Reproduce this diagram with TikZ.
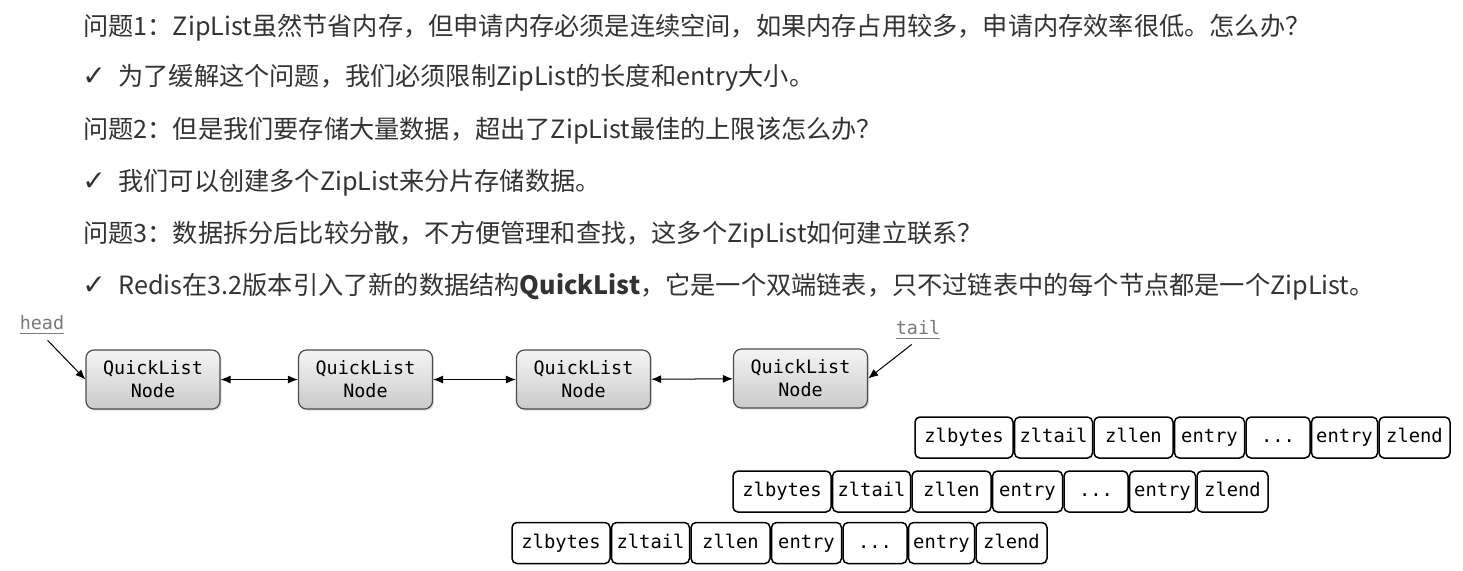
\documentclass[tikz,border=0pt]{standalone}
\usepackage{fontspec}
\setmainfont{Noto Sans CJK SC}
\newfontfamily\dejavu{DejaVu Sans}
\setmonofont{DejaVu Sans Mono}
\usetikzlibrary{positioning,shadows,arrows.meta}
\definecolor{txt}{HTML}{333333}
\definecolor{lblc}{HTML}{7A7A7A}
\newcommand\chk{{\dejavu\fontsize{14}{16}\selectfont ✓}}
\newcommand\zrow[3]{%
  \node[cell,minimum width=49pt,anchor=west] (#1a) at (#2,#3) {zlbytes};
  \node[cell,minimum width=39pt,right=0.75pt of #1a] (#1b) {zltail};
  \node[cell,minimum width=39.5pt,right=0.75pt of #1b] (#1c) {zllen};
  \node[cell,minimum width=35pt,right=0.75pt of #1c] (#1d) {entry};
  \node[cell,minimum width=32pt,right=0.75pt of #1d] (#1e) {.\kern0pt.\kern0pt.};
  \node[cell,minimum width=33pt,right=0.75pt of #1e] (#1f) {entry};
  \node[cell,minimum width=35.5pt,right=0.75pt of #1f] (#1g) {zlend};
}
\tikzset{
  line/.style={anchor=base west, inner sep=0pt, text=txt, font=\fontsize{12.6}{15}\selectfont},
  qnode/.style={draw=black!70, line width=0.6pt, rounded corners=4pt,
    top color=gray!8, bottom color=gray!42,
    drop shadow={opacity=0.25, shadow xshift=0.8pt, shadow yshift=-0.8pt},
    minimum width=67pt, minimum height=29.5pt, align=center, inner sep=0pt,
    font=\ttfamily\fontsize{9.2}{11.5}\selectfont},
  cell/.style={draw=black, line width=0.75pt, rounded corners=2.5pt, fill=white,
    minimum height=20.5pt, inner sep=0pt, outer sep=0pt, text height=7pt, text depth=2pt,
    font=\ttfamily\fontsize{9.4}{11}\selectfont},
  lbl/.style={inner sep=0pt, text=lblc, font=\ttfamily\fontsize{9.2}{11}\selectfont},
  dbl/.style={{Latex[length=5pt,width=4pt]}-{Latex[length=5pt,width=4pt]}, line width=0.5pt},
  ptr/.style={-{Latex[length=5pt,width=4pt]}, line width=0.5pt},
}
\begin{document}
\begin{tikzpicture}[x=0.5pt,y=-0.5pt]
\useasboundingbox (0,0) rectangle (1463,570);
\fill[white] (0,0) rectangle (1463,570);
\node[line] (t1) at (83,35) {问题1：ZipList虽然节省内存，但申请内存必须是连续空间，如果内存占用较多，申请内存效率很低。怎么办？};
\node[line] (c1) at (82,85) {\chk};
\node[line] (t2) at (118,85) {为了缓解这个问题，我们必须限制ZipList的长度和entry大小。};
\node[line] (t3) at (83,138) {问题2：但是我们要存储大量数据，超出了ZipList最佳的上限该怎么办？};
\node[line] (c2) at (82,190) {\chk};
\node[line] (t4) at (118,190) {我们可以创建多个ZipList来分片存储数据。};
\node[line] (t5) at (83,242) {问题3：数据拆分后比较分散，不方便管理和查找，这多个ZipList如何建立联系？};
\node[line] (c3) at (82,294) {\chk};
\node[line] (t6) at (118,294) {Redis在3.2版本引入了新的数据结构\textbf{QuickList}，它是一个双端链表，只不过链表中的每个节点都是一个ZipList。};

\node[qnode] (n1) at (153,379.5) {QuickList\\Node};
\node[qnode] (n2) at (365.5,379.5) {QuickList\\Node};
\node[qnode] (n3) at (583.5,379.5) {QuickList\\Node};
\node[qnode] (n4) at (800.5,378.5) {QuickList\\Node};
\draw[dbl] (n1) -- (n2);
\draw[dbl] (n2) -- (n3);
\draw[dbl] (n3) -- (n4);

\node[lbl] (head) at (42,325) {\underline{head}};
\node[lbl] (tail) at (918,330) {\underline{tail}};
\draw[ptr, shorten <=4pt] (head.south) -- (n1.west);
\draw[ptr, shorten <=4pt] (tail.south) -- (n4.east);

\zrow{p}{915}{437.5}
\zrow{q}{733}{491.5}
\zrow{r}{512}{543}
\end{tikzpicture}
\end{document}
